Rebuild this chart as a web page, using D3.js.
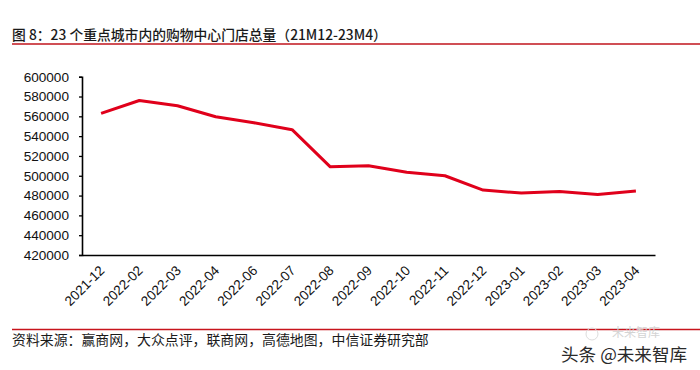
<!DOCTYPE html>
<html lang="zh">
<head>
    <meta charset="UTF-8">
    <title>购物中心门店总量</title>
    <script src="https://d3js.org/d3.v7.min.js"></script>
    <style>
        html, body { margin: 0; padding: 0; background: #fff; }
        svg { display: block; }
        .cjk { font-family: "Noto Sans CJK SC", "Noto Sans", sans-serif; }
        .num { font-family: "Liberation Sans", Arial, sans-serif; }
    </style>
</head>
<body>
<svg width="700" height="370"></svg>
<script>
    // data
    const months = ["2021-12", "2022-02", "2022-03", "2022-04", "2022-06", "2022-07", "2022-08",
        "2022-09", "2022-10", "2022-11", "2022-12", "2023-01", "2023-02", "2023-03", "2023-04"];
    const stores = [563000, 576000, 570700, 559600, 553500, 546500, 509000,
        510000, 503500, 500000, 485500, 482500, 484000, 481000, 484500];
    const yTicks = d3.range(420000, 600001, 20000);

    const titleText = "图 8：23 个重点城市内的购物中心门店总量（21M12-23M4）";
    const sourceText = "资料来源：赢商网，大众点评，联商网，高德地图，中信证券研究部";

    const svg = d3.select("svg");
    svg.append("rect").attr("width", 700).attr("height", 370).attr("fill", "#fff");

    // title + rule
    svg.append("text")
        .attr("class", "cjk")
        .attr("x", 12).attr("y", 40)
        .attr("font-size", "13.8px")
        .attr("font-weight", 500)
        .attr("fill", "#1a1a1a")
        .text(titleText);
    svg.append("line")
        .attr("x1", 12).attr("x2", 700).attr("y1", 44).attr("y2", 44)
        .attr("stroke", "#c0141c").attr("stroke-width", 1.5);

    // scales
    const x = d3.scaleBand().domain(months).range([82, 655]);
    const y = d3.scaleLinear().domain([420000, 600000]).range([255, 76.7]);
    const cx = d => x(d) + x.bandwidth() / 2;

    // y axis
    const yAxis = svg.append("g")
        .attr("transform", "translate(82,0)")
        .call(d3.axisLeft(y).tickValues(yTicks).tickSize(3).tickPadding(10).tickFormat(d3.format("d")));
    yAxis.select(".domain").attr("stroke", "#000").attr("stroke-width", 1.6);
    yAxis.selectAll(".tick line").attr("stroke", "#000").attr("stroke-width", 1.3);
    yAxis.selectAll("text")
        .attr("class", "num")
        .attr("font-size", "13.6px")
        .attr("fill", "#111");

    // x axis
    const xAxis = svg.append("g")
        .attr("transform", "translate(0,255)")
        .call(d3.axisBottom(x).tickSize(0).tickPadding(0));
    xAxis.select(".domain").attr("stroke", "#000").attr("stroke-width", 1.6);
    xAxis.selectAll(".tick text")
        .attr("class", "num")
        .attr("font-size", "13.6px")
        .attr("fill", "#111")
        .attr("text-anchor", "end")
        .attr("dy", "0.35em")
        .attr("y", 0)
        .attr("transform", "translate(1,13) rotate(-45)");

    // line
    const line = d3.line()
        .x((d, i) => cx(months[i]))
        .y(d => y(d));
    svg.append("path")
        .datum(stores)
        .attr("d", line)
        .attr("fill", "none")
        .attr("stroke", "#e0001b")
        .attr("stroke-width", 3)
        .attr("stroke-linejoin", "round");

    // source + rule
    svg.append("line")
        .attr("x1", 12).attr("x2", 700).attr("y1", 329.5).attr("y2", 329.5)
        .attr("stroke", "#c8141c").attr("stroke-width", 1.5);
    svg.append("text")
        .attr("class", "cjk")
        .attr("x", 12).attr("y", 345)
        .attr("font-size", "13.9px")
        .attr("fill", "#1a1a1a")
        .text(sourceText);

    // watermark
    svg.append("circle")
        .attr("cx", 592).attr("cy", 334).attr("r", 6)
        .attr("fill", "none").attr("stroke", "#ddd").attr("stroke-width", 1);
    svg.append("text")
        .attr("class", "cjk")
        .attr("x", 612).attr("y", 337)
        .attr("font-size", "12px")
        .attr("fill", "#d4d4d4")
        .text("未来智库");
    svg.append("text")
        .attr("class", "cjk")
        .attr("x", 561).attr("y", 361)
        .attr("font-size", "17.6px")
        .attr("fill", "#2a2a2a")
        .text("头条 @未来智库");
</script>
</body>
</html>
